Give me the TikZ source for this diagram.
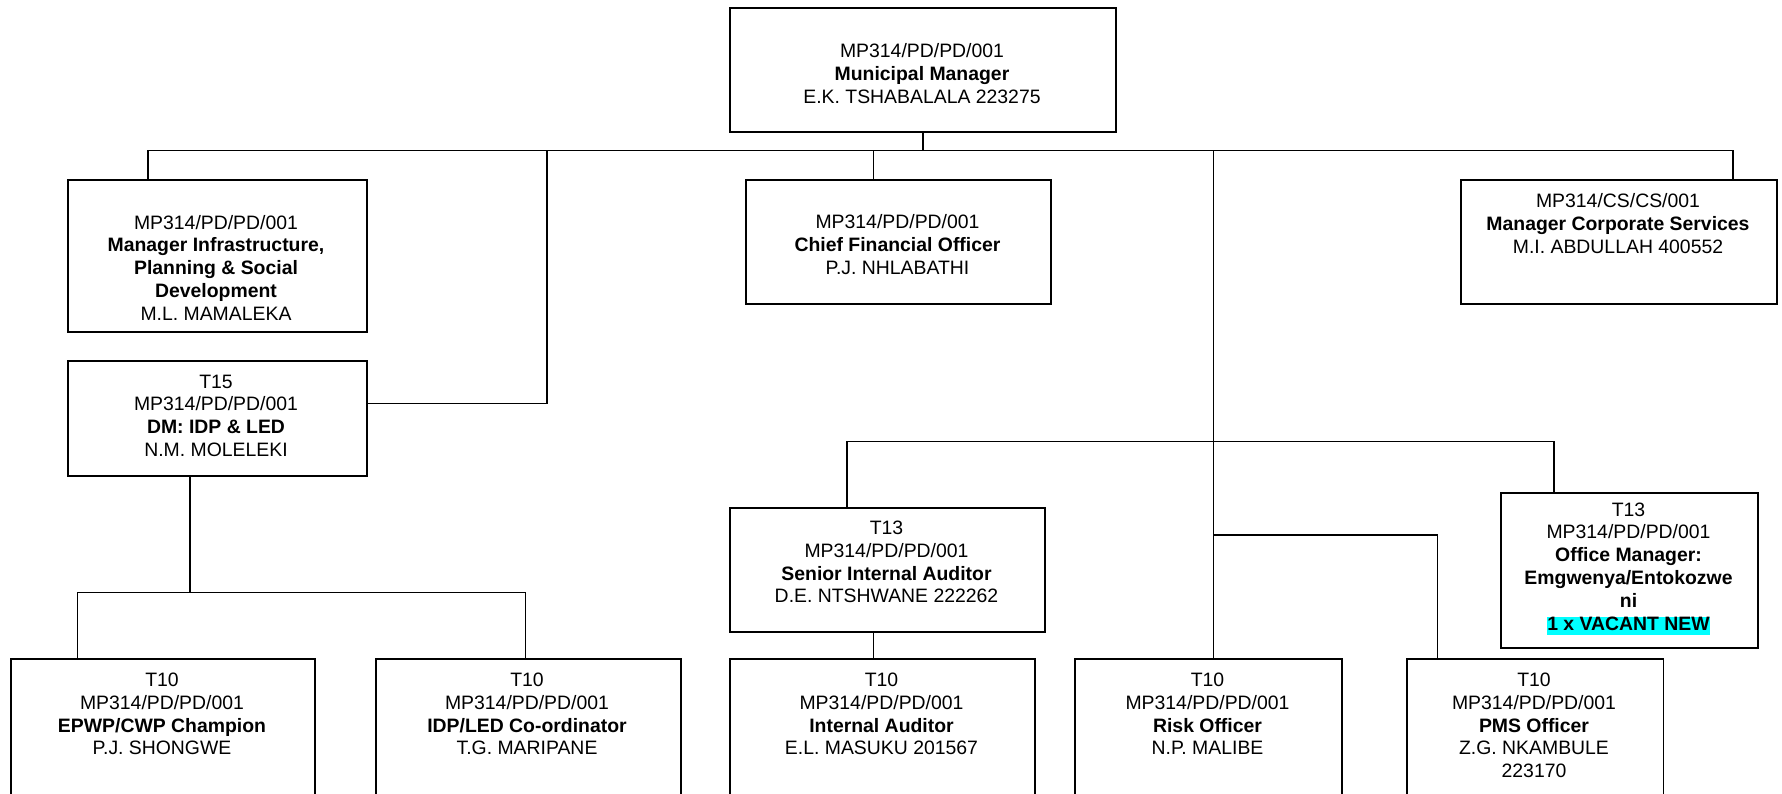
\documentclass[tikz,border=0pt]{standalone}
\usepackage{fontspec}
\setmainfont{Liberation Sans}
\usepackage{xcolor}
\definecolor{hilite}{RGB}{0,255,255}
\begin{document}
\begin{tikzpicture}[x=1pt,y=-1pt,
  post/.style={draw=black,line width=1.9pt,rectangle,inner sep=0pt,anchor=north west},
  label text/.style={align=center,inner sep=0pt,font=\fontsize{19.4}{22.8}\selectfont},
  link/.style={draw=black,line width=1.3pt,line cap=rect}]
\useasboundingbox (0,0) rectangle (1782,794);
\begin{scope}
\clip (0,0) rectangle (1782,794);

% boxes (x, y = top-left, size in px)
\node[post,minimum width=386pt,minimum height=124pt] (mm)   at (729,6.7) {};
\node[post,minimum width=298.6pt,minimum height=152.6pt] (mip) at (67,178.7) {};
\node[post,minimum width=305pt,minimum height=124.6pt] (cfo)  at (745,178.7) {};
\node[post,minimum width=316pt,minimum height=124.6pt] (mcs)  at (1460,178.7) {};
\node[post,minimum width=298.6pt,minimum height=114.7pt] (dm)  at (67,360) {};
\node[post,minimum width=315pt,minimum height=124pt] (sia)  at (729,506.7) {};
\node[post,minimum width=257pt,minimum height=155.6pt] (om)   at (1500,491.7) {};
\node[post,minimum width=304.2pt,minimum height=200pt] (epwp) at (9.8,658.3) {};
\node[post,minimum width=304.9pt,minimum height=200pt] (idp)  at (374.8,658.3) {};
\node[post,minimum width=305pt,minimum height=200pt] (ia)   at (729,658.3) {};
\node[post,minimum width=267pt,minimum height=200pt] (risk) at (1074,658.3) {};
\node[post,minimum width=256.5pt,minimum height=200pt] (pms)  at (1406,658.3) {};

% texts
\node[label text] (tmm) at (922,73.3) {MP314/PD/PD/001\\\textbf{Municipal Manager}\\E.K. TSHABALALA 223275};
\node[label text] (tmip) at (216,267.7) {MP314/PD/PD/001\\\textbf{Manager Infrastructure,}\\\textbf{Planning \& Social}\\\textbf{Development}\\M.L. MAMALEKA};
\node[label text] (tcfo) at (897.5,244.3) {MP314/PD/PD/001\\\textbf{Chief Financial Officer}\\P.J. NHLABATHI};
\node[label text] (tmcs) at (1618,223.3) {MP314/CS/CS/001\\\textbf{Manager Corporate Services}\\M.I. ABDULLAH 400552};
\node[label text] (tdm) at (216,415.8) {T15\\MP314/PD/PD/001\\\textbf{DM: IDP \& LED}\\N.M. MOLELEKI};
\node[label text] (tsia) at (886.5,562) {T13\\MP314/PD/PD/001\\\textbf{Senior Internal Auditor}\\D.E. NTSHWANE 222262};
\node[label text] (tom) at (1628.5,568.7) {T13\\MP314/PD/PD/001\\\textbf{Office Manager:}\\\textbf{Emgwenya/Entokozwe}\\\textbf{ni}\\{\setlength{\fboxsep}{0pt}\colorbox{hilite}{\rule[-4.6pt]{0pt}{17.8pt}\textbf{1 x VACANT NEW}}}};
\node[label text] (tepwp) at (162,714) {T10\\MP314/PD/PD/001\\\textbf{EPWP/CWP Champion}\\P.J. SHONGWE};
\node[label text] (tidp) at (527,714) {T10\\MP314/PD/PD/001\\\textbf{IDP/LED Co-ordinator}\\T.G. MARIPANE};
\node[label text] (tia) at (881.5,714) {T10\\MP314/PD/PD/001\\\textbf{Internal Auditor}\\E.L. MASUKU 201567};
\node[label text] (trisk) at (1207.5,714) {T10\\MP314/PD/PD/001\\\textbf{Risk Officer}\\N.P. MALIBE};
\node[label text] (tpms) at (1534,725.5) {T10\\MP314/PD/PD/001\\\textbf{PMS Officer}\\Z.G. NKAMBULE\\223170};

% junction points of the connectors
\coordinate (busL) at (148,150.7);
\coordinate (busR) at (1733,150.7);
\coordinate (cfoTap) at (873.6,150.7);
\coordinate (dmTap) at (547,150.7);
\coordinate (dmJoin) at (547,403.3);
\coordinate (midTap) at (1213.7,150.7);
\coordinate (siaTap) at (847,441.7);
\coordinate (omTap) at (1554,441.7);
\coordinate (pmsJoin) at (1213.7,535);
\coordinate (pmsTap) at (1437.5,535);
\coordinate (iaX) at (873.7,640);
\coordinate (dmX) at (190,592.7);
\coordinate (teamL) at (77.5,592.7);
\coordinate (teamR) at (525.8,592.7);

% top level
\draw[link] (mm.south) -- (mm.south |- busL);
\draw[link] (busL) -- (busR);
\draw[link] (busL) -- (busL |- mip.north);
\draw[link] (busR) -- (busR |- mcs.north);
\draw[link] (cfoTap) -- (cfoTap |- cfo.north);
\draw[link] (dmTap) -- (dmJoin) -- (dmJoin -| dm.east);
\draw[link] (midTap) -- (midTap |- risk.north);

% internal audit and office branch
\draw[link] (siaTap |- sia.north) -- (siaTap) -- (omTap) -- (omTap |- om.north);
\draw[link] (pmsJoin) -- (pmsTap) -- (pmsTap |- pms.north);
\draw[link] (iaX |- sia.south) -- (iaX |- ia.north);

% IDP & LED team
\draw[link] (dmX |- dm.south) -- (dmX);
\draw[link] (teamL |- epwp.north) -- (teamL) -- (teamR) -- (teamR |- idp.north);
\end{scope}
\end{tikzpicture}
\end{document}
